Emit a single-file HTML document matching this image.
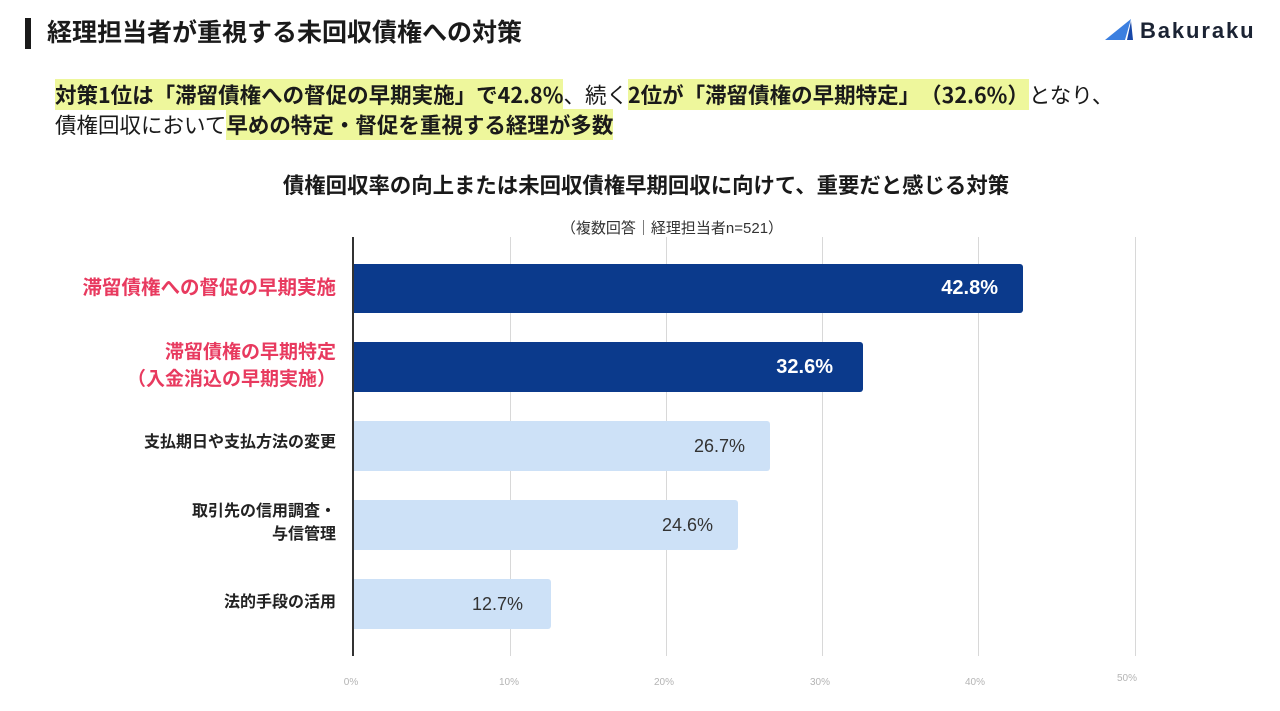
<!DOCTYPE html>
<html><head><meta charset="utf-8">
<style>
*{margin:0;padding:0;box-sizing:border-box}
html,body{width:1280px;height:711px;background:#fff;overflow:hidden}
body{position:relative;font-family:"Liberation Sans","Noto Sans CJK JP",sans-serif;color:#1a1a1a;text-spacing-trim:space-all}
.abs{position:absolute;white-space:nowrap}
.hl{background:#eef79c;font-weight:700}
.sub{font-family:"Noto Sans CJK JP","Liberation Sans",sans-serif}
.bar{position:absolute;left:353px;border-radius:0 3px 3px 0}
.dk{background:#0b3a8c}
.lt{background:#cde1f7}
.grid{position:absolute;top:237px;height:419px;width:1px;background:#d8d8d8}
.val{position:absolute;white-space:nowrap;text-align:right;line-height:24px;height:24px}
.lab{position:absolute;right:944px;text-align:right;white-space:nowrap;font-weight:700}
.tick{position:absolute;font-size:10px;color:#b4b4b4;width:40px;text-align:center;line-height:12px}
</style></head><body>

<!-- header -->
<div class="abs" style="left:25px;top:18px;width:6px;height:31px;background:#1a1a1a"></div>
<div class="abs" style="left:47px;top:17px;font-size:25px;line-height:32px;font-weight:700;color:#1a1a1a">経理担当者が重視する未回収債権への対策</div>

<svg class="abs" style="left:1103px;top:17px" width="32" height="25" viewBox="0 0 32 25">
  <polygon points="2,23 28,2 22,23" fill="#3b7fe0"/>
  <polygon points="24,23 28,4 30,23" fill="#1747a8"/>
</svg>
<div class="abs" style="left:1140px;top:16px;font-size:22px;line-height:30px;font-weight:700;color:#1b2333;letter-spacing:1.9px">Bakuraku</div>

<!-- subtitle -->
<div class="abs sub" style="left:55px;top:81px;font-size:21.5px;line-height:28px;color:#1a1a1a"><span class="hl">対策1位は「滞留債権への督促の早期実施」で42.8%</span>、続く<span class="hl">2位が「滞留債権の早期特定」（32.6%）</span>となり、</div>
<div class="abs sub" style="left:55px;top:111px;font-size:21.5px;line-height:28px;color:#1a1a1a">債権回収において<span class="hl">早めの特定・督促を重視する経理が多数</span></div>

<!-- chart title -->
<div class="abs" style="left:0;width:1292px;text-align:center;top:172px;font-size:21.4px;line-height:28px;font-weight:700;color:#1a1a1a">債権回収率の向上または未回収債権早期回収に向けて、重要だと感じる対策</div>
<div class="abs" style="left:0;width:1344px;text-align:center;top:218px;font-size:15px;line-height:22px;color:#333">（複数回答｜経理担当者n=521）</div>

<!-- grid -->
<div class="grid" style="left:510px"></div>
<div class="grid" style="left:666px"></div>
<div class="grid" style="left:822px"></div>
<div class="grid" style="left:978px"></div>
<div class="grid" style="left:1135px"></div>

<!-- bars -->
<div class="bar dk" style="top:264px;height:49px;width:670px"></div>
<div class="bar dk" style="top:342px;height:50px;width:510px"></div>
<div class="bar lt" style="top:421px;height:50px;width:417px"></div>
<div class="bar lt" style="top:500px;height:50px;width:385px"></div>
<div class="bar lt" style="top:579px;height:50px;width:198px"></div>

<!-- axis -->
<div class="abs" style="left:352px;top:237px;width:2px;height:419px;background:#333"></div>

<!-- values -->
<div class="val" style="right:282px;top:276px;font-size:20px;font-weight:700;color:#fff">42.8%</div>
<div class="val" style="right:447px;top:355px;font-size:20px;font-weight:700;color:#fff">32.6%</div>
<div class="val" style="right:535px;top:434px;font-size:18px;color:#333">26.7%</div>
<div class="val" style="right:567px;top:513px;font-size:18px;color:#333">24.6%</div>
<div class="val" style="right:757px;top:592px;font-size:18px;color:#333">12.7%</div>

<!-- labels -->
<div class="lab" style="top:274px;font-size:19.5px;line-height:28px;color:#e83a5f">滞留債権への督促の早期実施</div>
<div class="lab" style="top:339px;font-size:19px;line-height:27px;color:#e83a5f">滞留債権の早期特定<br>（入金消込の早期実施）</div>
<div class="lab" style="top:431px;font-size:16px;line-height:24px;color:#222">支払期日や支払方法の変更</div>
<div class="lab" style="top:500px;font-size:16px;line-height:23px;color:#222">取引先の信用調査・<br>与信管理</div>
<div class="lab" style="top:591px;font-size:16px;line-height:24px;color:#222">法的手段の活用</div>

<!-- ticks -->
<div class="tick" style="left:331px;top:677px">0%</div>
<div class="tick" style="left:489px;top:677px">10%</div>
<div class="tick" style="left:644px;top:677px">20%</div>
<div class="tick" style="left:800px;top:677px">30%</div>
<div class="tick" style="left:955px;top:677px">40%</div>
<div class="tick" style="left:1107px;top:673px">50%</div>

</body></html>
